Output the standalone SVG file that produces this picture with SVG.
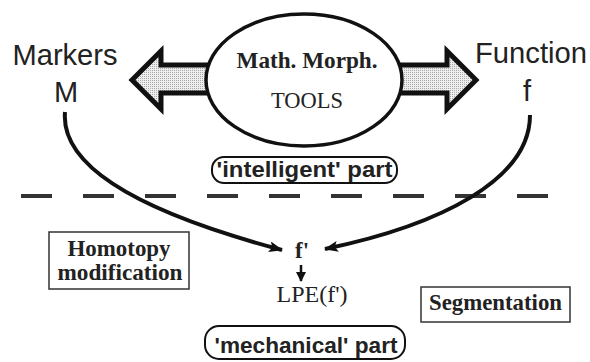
<svg xmlns="http://www.w3.org/2000/svg" width="590" height="362" viewBox="0 0 590 362">
<defs>
<pattern id="stip" width="2" height="2" patternUnits="userSpaceOnUse">
<rect width="2" height="2" fill="#eeeeee"/>
<rect width="1" height="1" fill="#a8a8a8"/>
</pattern>
<marker id="ah" viewBox="0 0 14 11" refX="13" refY="5.5" markerWidth="14" markerHeight="11" markerUnits="userSpaceOnUse" orient="auto">
<path d="M0,0 L14,5.5 L0,11 L3,5.5 Z" fill="#111"/>
</marker>
<marker id="ahs" viewBox="0 0 10 10" refX="9" refY="5" markerWidth="10" markerHeight="10" markerUnits="userSpaceOnUse" orient="auto">
<path d="M0,0 L10,5 L0,10 Z" fill="#111"/>
</marker>
</defs>
<style>
.sans{font-family:"Liberation Sans",Arial,sans-serif;fill:#222}
.serif{font-family:"Liberation Serif","Times New Roman",serif;fill:#222}
.bold{font-weight:bold}
.big{font-size:29px}
.lbl{font-size:22px;font-weight:bold}
.box{fill:#fff;stroke:#333;stroke-width:1.5}
.pill{fill:#fff;stroke:#111;stroke-width:2}
.fat{fill:url(#stip);stroke:#111;stroke-width:5;stroke-linejoin:miter}
.conn{fill:none;stroke:#111;stroke-width:4}
</style>
<rect width="590" height="362" fill="#fff"/>

<g id="dashline">
<line x1="21" y1="196" x2="548" y2="196" stroke="#333" stroke-width="4" stroke-dasharray="31 31"/>
</g>

<g id="arrow-left">
<path class="fat" d="M132,80 L161,51 L161,65 L215,65 L215,93 L161,93 L161,109 Z"/>
</g>
<g id="arrow-right">
<path class="fat" d="M476,80 L447,51 L447,65 L393,65 L393,93 L447,93 L447,109 Z"/>
</g>

<g id="tools">
<ellipse cx="304" cy="80" rx="98" ry="66" fill="#fff" stroke="#111" stroke-width="3.5"/>
<text class="serif bold" x="307" y="68" font-size="23" text-anchor="middle" textLength="141" lengthAdjust="spacingAndGlyphs">Math.  Morph.</text>
<text class="serif" x="307" y="108" font-size="23" text-anchor="middle" textLength="72" lengthAdjust="spacingAndGlyphs">TOOLS</text>
</g>

<g id="markers">
<text class="sans big" x="65" y="65" text-anchor="middle" textLength="105" lengthAdjust="spacingAndGlyphs">Markers</text>
<text class="sans big" x="66" y="102" text-anchor="middle">M</text>
</g>

<g id="function">
<text class="sans big" x="531" y="63" text-anchor="middle" textLength="112" lengthAdjust="spacingAndGlyphs">Function</text>
<text class="sans big" x="527" y="101" text-anchor="middle">f</text>
</g>

<g id="intelligent">
<rect class="pill" x="212" y="157" width="185" height="26" rx="12"/>
<text class="sans lbl" x="304.5" y="177" text-anchor="middle" textLength="176" lengthAdjust="spacingAndGlyphs">'intelligent' part</text>
</g>

<g id="homotopy">
<rect class="box" x="49" y="232" width="140" height="57"/>
<text class="serif bold" x="119" y="256" font-size="24" text-anchor="middle" textLength="103" lengthAdjust="spacingAndGlyphs">Homotopy</text>
<text class="serif bold" x="120" y="280" font-size="24" text-anchor="middle" textLength="125" lengthAdjust="spacingAndGlyphs">modification</text>
</g>

<g id="fprime">
<text class="serif bold" x="302" y="258" font-size="23" text-anchor="middle">f'</text>
</g>

<g id="lpe">
<text class="serif" x="312" y="302" font-size="24" text-anchor="middle" textLength="71" lengthAdjust="spacingAndGlyphs">LPE(f')</text>
</g>

<g id="segmentation">
<rect class="box" x="421" y="287" width="149" height="35"/>
<text class="serif bold" x="495.5" y="310" font-size="24" text-anchor="middle" textLength="133" lengthAdjust="spacingAndGlyphs">Segmentation</text>
</g>

<g id="mechanical">
<rect class="pill" x="205" y="326" width="200" height="33" rx="14"/>
<text class="sans lbl" x="306" y="353" text-anchor="middle" textLength="183" lengthAdjust="spacingAndGlyphs">'mechanical' part</text>
</g>

<g id="connectors">
<path class="conn" d="M65,112 C60,170 150,215 282,250" marker-end="url(#ah)"/>
<path class="conn" d="M530,115 C530,180 440,225 325,249" marker-end="url(#ah)"/>
<path d="M301,265 L301,281" stroke="#111" stroke-width="2.5" marker-end="url(#ahs)"/>
</g>
</svg>
